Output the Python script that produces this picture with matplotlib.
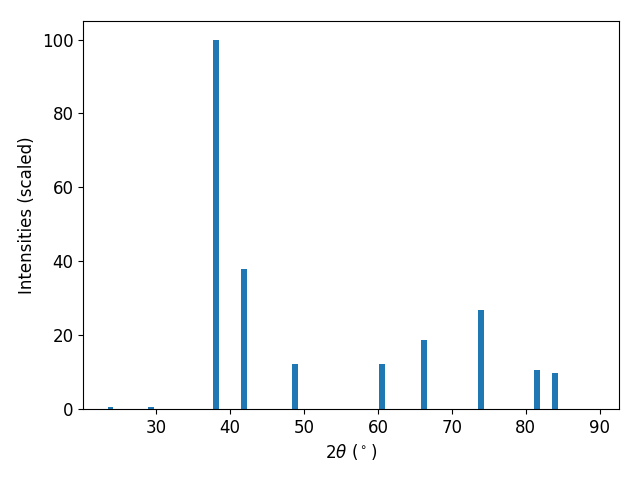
import matplotlib
matplotlib.use('Agg')
import matplotlib.pyplot as plt

# peak positions (2theta, degrees) and scaled intensities
two_theta = [23.8, 29.3, 38.05, 41.9, 48.8, 60.5, 66.2, 73.9, 81.5, 83.9]
intensity = [0.4, 0.4, 100.0, 38.0, 12.2, 12.2, 18.7, 26.9, 10.6, 9.8]

plt.rcParams['font.size'] = 12
fig, ax = plt.subplots(figsize=(6.4, 4.8), dpi=100)
ax.bar(two_theta, intensity, width=0.8, color='#1f77b4')
ax.set_xlim(20.1, 92.6)
ax.set_xlabel(r'$2\theta$ ($^\circ$)')
ax.set_ylabel('Intensities (scaled)')
fig.subplots_adjust(left=0.13, right=0.967, top=0.956, bottom=0.148)
fig.savefig('out.png')
